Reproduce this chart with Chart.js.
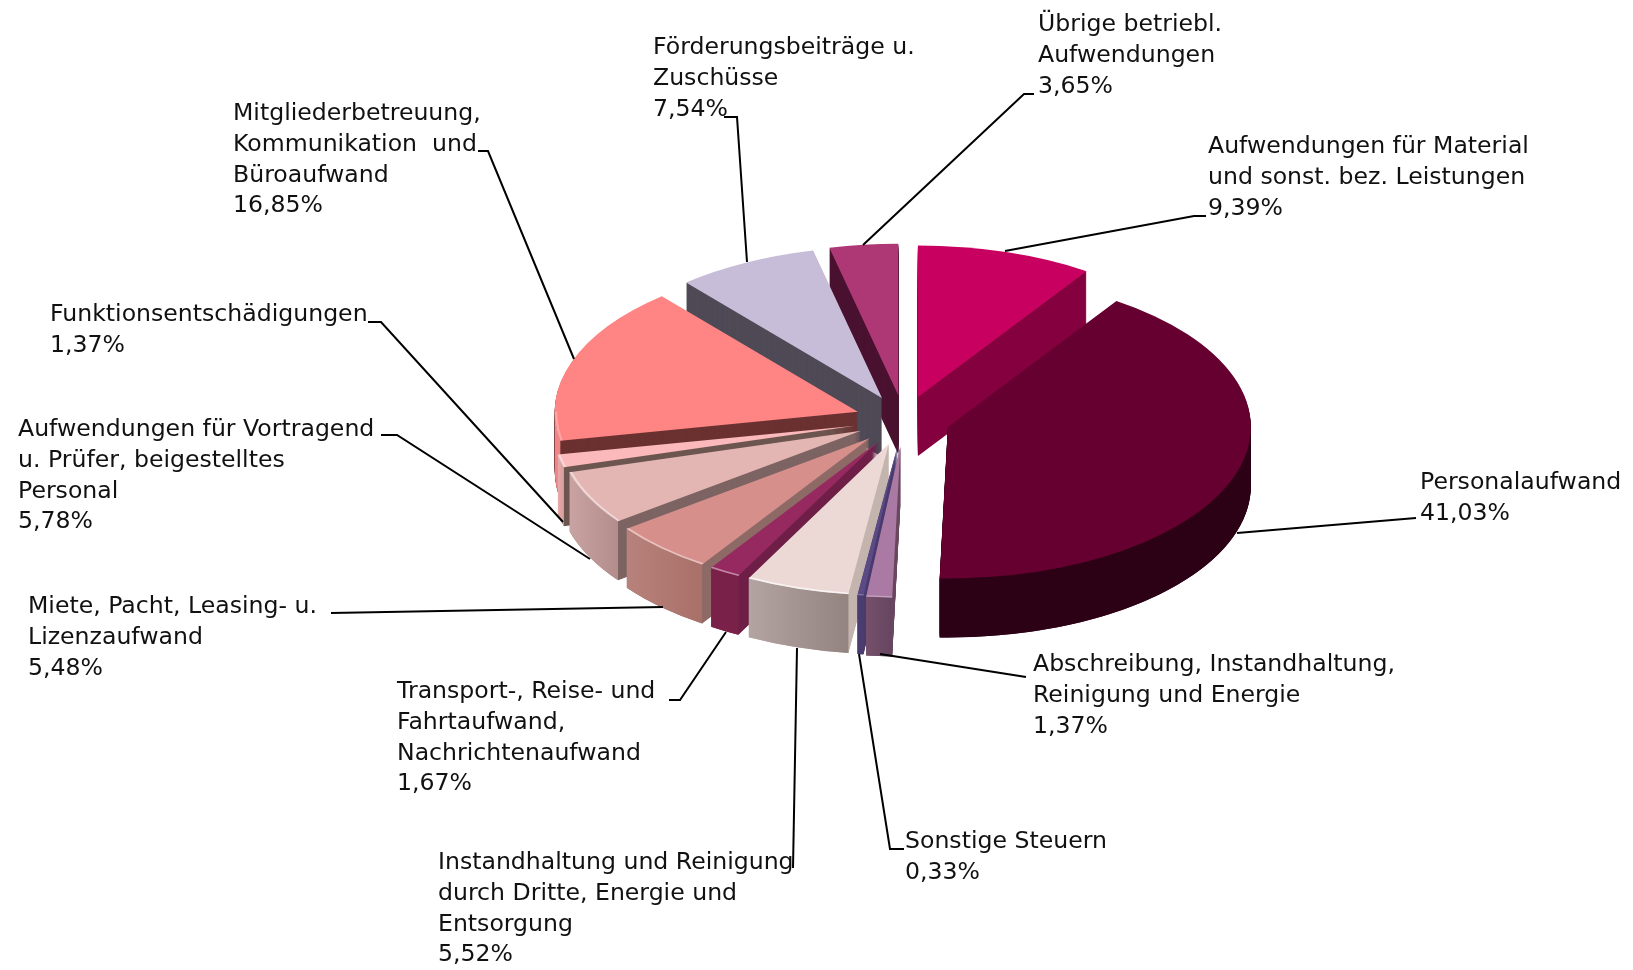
<!DOCTYPE html>
<html lang="de">
<head>
<meta charset="utf-8">
<title>Aufwendungen</title>
<script src="https://cdn.jsdelivr.net/npm/chart.js@4/dist/chart.umd.min.js"></script>
<style>
    html, body { margin: 0; padding: 0; background: #fff; }
    canvas { display: block; }
</style>
</head>
<body>
<canvas id="pie" width="1633" height="970"></canvas>
<script>
// Data, clockwise from 12 o'clock
const categories = [
    ['Aufwendungen für Material', 'und sonst. bez. Leistungen'],
    ['Personalaufwand'],
    ['Abschreibung, Instandhaltung,', 'Reinigung und Energie'],
    ['Sonstige Steuern'],
    ['Instandhaltung und Reinigung', 'durch Dritte, Energie und', 'Entsorgung'],
    ['Transport-, Reise- und', 'Fahrtaufwand,', 'Nachrichtenaufwand'],
    ['Miete, Pacht, Leasing- u.', 'Lizenzaufwand'],
    ['Aufwendungen für Vortragend', 'u. Prüfer, beigestelltes', 'Personal'],
    ['Funktionsentschädigungen'],
    ['Mitgliederbetreuung,', 'Kommunikation  und', 'Büroaufwand'],
    ['Förderungsbeiträge u.', 'Zuschüsse'],
    ['Übrige betriebl.', 'Aufwendungen']
];
const values = [9.39, 41.03, 1.37, 0.33, 5.52, 1.67, 5.48, 5.78, 1.37, 16.85, 7.54, 3.65];
const explode = [48, 46, 52, 50, 50, 50, 50, 48, 50, 49, 49, 50];

// Slice colours
const topColors = ['#c8005f', '#660030', '#ab7aa4', '#5c4a85', '#ecd9d6', '#96295f', '#d68f8b', '#e3b5b3', '#fbb9bb', '#ff8585', '#c8bdd8', '#ae3875'];
const cutColors = ['#85003f', '#2c0015', '#6e4a62', '#4a3c6e', '#c4b4ae', '#6f1f47', '#8e6a66', '#7d6463', '#6d5650', '#6b3131', '#4f4a56', '#4a1230'];
const rimLeft = ['#85003f', '#2c0015', '#75506a', '#4a3c6e', '#b3a3a1', '#7a2149', '#b8827c', '#c9a3a1', '#e8aaaa', '#f08585', '#4f4a56', '#4a1230'];
const rimRight = ['#85003f', '#2c0015', '#664560', '#4a3c6e', '#948480', '#7a2149', '#a87068', '#b38d8b', '#d89c9c', '#f08585', '#4f4a56', '#4a1230'];
const bevelAlpha = [0, 0, 0.3, 0.2, 0.7, 0.45, 0.45, 0.45, 0.4, 0.25, 0, 0];

// Label layout, same order as categories
const labelX = [1208, 1420, 1033, 905, 438, 397, 28, 18, 50, 233, 653, 1038];
const labelY = [147, 483, 665, 842, 863, 692, 607, 430, 315, 114, 48, 25];
const leaders = [
    [[1005, 251], [1194, 216], [1206, 216]],
    [[1237, 533], [1416, 518]],
    [[880, 654], [1026, 677]],
    [[859, 654], [890, 849], [904, 849]],
    [[797, 648], [793, 868]],
    [[726, 632], [680, 700], [669, 700]],
    [[663, 607], [331, 613]],
    [[590, 559], [397, 435], [381, 435]],
    [[563, 522], [381, 322], [368, 322]],
    [[574, 359], [488, 151], [478, 151]],
    [[747, 262], [737, 117], [724, 117]],
    [[863, 245], [1024, 94], [1034, 94]]
];

const squash = 0.5;
const depth = 59;
const lineHeight = 30.7;

function pieTransform(ctx, cy, dy) {
    ctx.translate(0, cy + dy);
    ctx.scale(1, squash);
    ctx.translate(0, -cy);
}

function drawSlice(ctx, arc, i, cy) {
    const mid = (arc.startAngle + arc.endAngle) / 2;
    const shifted = Object.create(arc);
    shifted.x = arc.x + Math.cos(mid) * arc.options.offset;
    shifted.y = arc.y + Math.sin(mid) * arc.options.offset;

    // extruded body, one copy per pixel of depth
    shifted.options = Object.assign({}, arc.options, { offset: 0, backgroundColor: cutColors[i] });
    for (let d = depth; d > 0; d--) {
        ctx.save();
        pieTransform(ctx, cy, d);
        shifted.draw(ctx);
        ctx.restore();
    }

    // outer wall, only the part that faces the viewer
    const from = Math.max(arc.startAngle, 0);
    const to = Math.min(arc.endAngle, Math.PI);
    if (from < to) {
        ctx.save();
        pieTransform(ctx, cy, 0);
        const r = arc.outerRadius;
        const x0 = shifted.x + Math.cos(to) * r;
        const x1 = shifted.x + Math.cos(from) * r;
        const grad = ctx.createLinearGradient(x0, 0, x1, 0);
        grad.addColorStop(0, rimLeft[i]);
        grad.addColorStop(1, rimRight[i]);
        ctx.fillStyle = grad;
        ctx.beginPath();
        ctx.arc(shifted.x, shifted.y, r, from, to);
        ctx.arc(shifted.x, shifted.y + depth / squash, r, to, from, true);
        ctx.closePath();
        ctx.fill();
        ctx.restore();
    }

    // top face
    shifted.options = Object.assign({}, arc.options, { offset: 0, backgroundColor: topColors[i] });
    ctx.save();
    pieTransform(ctx, cy, 0);
    shifted.draw(ctx);
    if (from < to && bevelAlpha[i] > 0) {
        ctx.strokeStyle = 'rgba(255, 255, 255, ' + bevelAlpha[i] + ')';
        ctx.lineWidth = 3;
        ctx.beginPath();
        ctx.arc(shifted.x, shifted.y, arc.outerRadius - 1, from, to);
        ctx.stroke();
    }
    ctx.restore();
}

const pie3d = {
    id: 'pie3d',
    beforeDatasetsDraw(chart) {
        const arcs = chart.getDatasetMeta(0).data;
        const cy = arcs[0].y;
        // back slices first
        const order = arcs.map((arc, i) => i).sort((a, b) => {
            const midA = (arcs[a].startAngle + arcs[a].endAngle) / 2;
            const midB = (arcs[b].startAngle + arcs[b].endAngle) / 2;
            return Math.sin(midA) - Math.sin(midB);
        });
        order.forEach(i => drawSlice(chart.ctx, arcs[i], i, cy));
        return false;
    }
};

const sliceLabels = {
    id: 'sliceLabels',
    afterDraw(chart) {
        const ctx = chart.ctx;
        ctx.save();
        ctx.strokeStyle = '#000';
        ctx.lineWidth = 2;
        leaders.forEach(points => {
            ctx.beginPath();
            points.forEach((p, n) => n ? ctx.lineTo(p[0], p[1]) : ctx.moveTo(p[0], p[1]));
            ctx.stroke();
        });
        ctx.fillStyle = '#111';
        ctx.font = '23.6px "DejaVu Sans"';
        ctx.textBaseline = 'middle';
        categories.forEach((lines, i) => {
            const text = lines.concat(values[i].toFixed(2).replace('.', ',') + '%');
            text.forEach((line, n) => ctx.fillText(line, labelX[i], labelY[i] + n * lineHeight));
        });
        ctx.restore();
    }
};

new Chart(document.getElementById('pie'), {
    type: 'pie',
    data: {
        labels: categories.map(lines => lines.join(' ')),
        datasets: [{
            data: values,
            offset: explode,
            radius: 303,
            borderWidth: 0,
            backgroundColor: topColors
        }]
    },
    options: {
        responsive: false,
        animation: false,
        layout: { padding: { left: 175, bottom: 130 } },
        plugins: { legend: { display: false }, tooltip: { enabled: false } }
    },
    plugins: [pie3d, sliceLabels]
});
</script>
</body>
</html>
